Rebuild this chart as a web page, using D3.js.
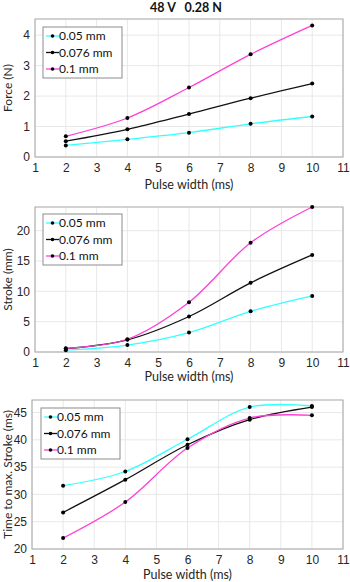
<!DOCTYPE html>
<html>
<head>
<meta charset="utf-8">
<script src="https://cdn.jsdelivr.net/npm/d3@7"></script>
<style>
  body { margin: 0; background: #fff; }
  svg { font-family: Lato, "Open Sans", sans-serif; }
  .grid line { stroke: #e8e8e8; }
  .tick text { fill: #262626; font-size: 12px; }
</style>
</head>
<body>
<script>
// pulse widths (ms)
var pulseWidths = [2, 4, 6, 8, 10];
var seriesNames = ["0.05 mm", "0.076 mm", "0.1 mm"];
var seriesColors = ["#33ffff", "#111111", "#ff40d4"];

// force (N)
var force005  = [0.38, 0.58, 0.80, 1.09, 1.33];
var force0076 = [0.52, 0.91, 1.41, 1.93, 2.41];
var force01   = [0.68, 1.28, 2.28, 3.37, 4.32];

// stroke (mm)
var stroke005  = [0.3, 1.15, 3.2, 6.7, 9.25];
var stroke0076 = [0.55, 2.0, 5.85, 11.4, 16.0];
var stroke01   = [0.6, 2.1, 8.2, 18.0, 23.9];

// time to max. stroke (ms)
var time005  = [31.6, 34.2, 40.1, 46.0, 46.2];
var time0076 = [26.7, 32.7, 39.1, 43.7, 46.0];
var time01   = [22.0, 28.6, 38.5, 44.0, 44.5];

var xTicks = [1, 2, 3, 4, 5, 6, 7, 8, 9, 10, 11];
var forceTicks  = [0, 1, 2, 3, 4];
var strokeTicks = [0, 5, 10, 15, 20];
var timeTicks   = [20, 25, 30, 35, 40, 45];

var svg = d3.select("body").append("svg")
            .attr("width", 350)
            .attr("height", 582);

svg.append("text")
   .attr("x", 186).attr("y", 12)
   .attr("text-anchor", "middle")
   .style("font-size", "12.5px")
   .style("font-weight", "bold")
   .style("white-space", "pre")
   .style("fill", "#111")
   .text("48 V   0.28 N");

// one entry per panel
var panels = [
  { series: [force005, force0076, force01], yLabel: "Force (N)", yDomain: [0, 4.53], yTicks: forceTicks,
    left: 35, top: 19, bottom: 157, labelGap: 32, legend: [43, 27] },
  { series: [stroke005, stroke0076, stroke01], yLabel: "Stroke (mm)", yDomain: [0, 23.9], yTicks: strokeTicks,
    left: 35, top: 207, bottom: 352, labelGap: 29, legend: [43, 214] },
  { series: [time005, time0076, time01], yLabel: "Time to max. Stroke (ms)", yDomain: [20, 47.3], yTicks: timeTicks,
    left: 32, top: 400, bottom: 549, labelGap: 30, legend: [41, 408] }
];

var right = 343;

panels.forEach(function(p){
  var x = d3.scaleLinear().domain([1, 11]).range([p.left, right]);
  var y = d3.scaleLinear().domain(p.yDomain).range([p.bottom, p.top]);
  var g = svg.append("g");

  // grid
  g.append("g").attr("class", "grid")
   .selectAll("line").data(xTicks).enter().append("line")
   .attr("x1", function(d){ return x(d); }).attr("x2", function(d){ return x(d); })
   .attr("y1", p.top).attr("y2", p.bottom);
  g.append("g").attr("class", "grid")
   .selectAll("line").data(p.yTicks).enter().append("line")
   .attr("x1", p.left).attr("x2", right)
   .attr("y1", function(d){ return y(d); }).attr("y2", function(d){ return y(d); });

  // frame
  g.append("rect")
   .attr("x", p.left).attr("y", p.top)
   .attr("width", right - p.left).attr("height", p.bottom - p.top)
   .attr("fill", "none").attr("stroke", "#a6a6a6");

  var xAxis = g.append("g")
   .attr("transform", "translate(0," + p.bottom + ")")
   .call(d3.axisBottom(x).tickValues(xTicks).tickSize(0).tickPadding(6).tickFormat(d3.format("d")));
  xAxis.select(".domain").remove();

  var yAxis = g.append("g")
   .attr("transform", "translate(" + p.left + ",0)")
   .call(d3.axisLeft(y).tickValues(p.yTicks).tickSize(0).tickPadding(5).tickFormat(d3.format("d")));
  yAxis.select(".domain").remove();

  g.append("text")
   .attr("x", (p.left + right) / 2).attr("y", p.bottom + p.labelGap)
   .attr("text-anchor", "middle")
   .style("font-size", "12.5px").style("fill", "#262626")
   .text("Pulse width (ms)");

  g.append("text")
   .attr("transform", "translate(8," + ((p.top + p.bottom) / 2) + ") rotate(-90)")
   .attr("text-anchor", "middle")
   .attr("dy", "0.35em")
   .style("font-size", "12px").style("fill", "#262626")
   .text(p.yLabel);

  var line = d3.line()
               .x(function(d, i){ return x(pulseWidths[i]); })
               .y(function(d){ return y(d); })
               .curve(d3.curveCatmullRom);

  p.series.forEach(function(vals, si){
    g.append("path")
     .attr("d", line(vals))
     .attr("fill", "none")
     .attr("stroke", seriesColors[si])
     .attr("stroke-width", 1.3);
    g.selectAll(null).data(vals).enter().append("circle")
     .attr("cx", function(d, i){ return x(pulseWidths[i]); })
     .attr("cy", function(d){ return y(d); })
     .attr("r", 2)
     .attr("fill", "#000");
  });

  // legend
  var lg = g.append("g").attr("transform", "translate(" + p.legend[0] + "," + p.legend[1] + ")");
  lg.append("rect")
    .attr("width", 79).attr("height", 51)
    .attr("fill", "#fff").attr("stroke", "#8c8c8c");
  seriesNames.forEach(function(name, si){
    var ly = 9 + si * 16.5;
    lg.append("line")
      .attr("x1", 3).attr("x2", 16).attr("y1", ly).attr("y2", ly)
      .attr("stroke", seriesColors[si]).attr("stroke-width", 1.3);
    lg.append("circle")
      .attr("cx", 9.5).attr("cy", ly)
      .attr("r", 1.8).attr("fill", "#000");
    lg.append("text")
      .attr("x", 16).attr("y", ly).attr("dy", "0.35em")
      .style("font-size", "12px").style("fill", "#111")
      .text(name);
  });
});
</script>
</body>
</html>
